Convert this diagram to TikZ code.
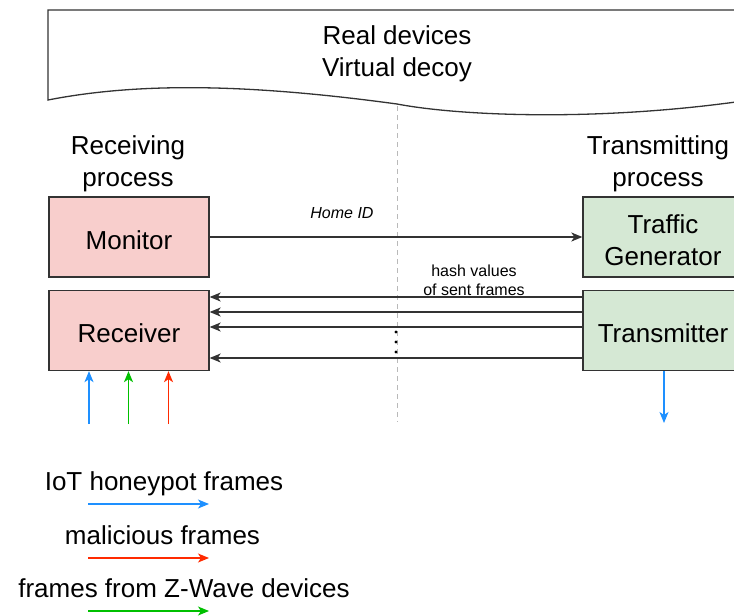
\documentclass[tikz,border=0pt]{standalone}
\usepackage{fontspec}
\setmainfont{Liberation Sans}
\usetikzlibrary{arrows.meta}

\definecolor{recfill}{HTML}{F8CECC}
\definecolor{txfill}{HTML}{D5E8D4}
\definecolor{edge}{HTML}{333333}
\definecolor{honeyblue}{HTML}{1E90FF}
\definecolor{malred}{HTML}{FF2A00}
\definecolor{zwgreen}{HTML}{00C000}

\tikzset{
  big/.style={font=\fontsize{26}{32}\selectfont, align=center, inner sep=0pt},
  small/.style={font=\fontsize{16}{19}\selectfont, align=center, inner sep=0pt},
  procbox/.style={draw=edge, line width=1.3pt, minimum width=160pt, minimum height=80pt,
    inner sep=0pt},
  boxtext/.style={label={[big, yshift=-3pt]center:#1}},
  tip/.style={-{Stealth[length=11pt,width=9pt,inset=3pt]}},
  flow/.style={tip, draw=edge, line width=1.3pt},
  feed/.style={tip, line width=1.3pt},
}

\begin{document}
\begin{tikzpicture}[x=1pt,y=-1pt]
\useasboundingbox (0,0) rectangle (734,616);

% document shape with wavy lower edge
\draw[edge, line width=1.3pt, fill=white]
  (48,100) -- (48,10) -- (750,10) -- (750,100)
  .. controls (600,122) and (460,116) .. (397,104)
  .. controls (250,84) and (140,82) .. (48,100) -- cycle;
\node[big] (title) at (397,54) {Real devices\\Virtual decoy};

% separator between the two sides
\draw[gray!55, line width=1pt, dash pattern=on 5pt off 4pt] (397,106) -- (397,422);

% side headings
\node[big] (rxhead) at (128,164) {Receiving\\process};
\node[big] (txhead) at (658,164) {Transmitting\\process};

% process boxes
\node[procbox, fill=recfill, boxtext={Monitor}] (mon) at (129,237) {};
\node[procbox, fill=recfill, boxtext={Receiver}] (rx) at (129,330.5) {};
\node[procbox, fill=txfill, boxtext={Traffic\\Generator}] (tg) at (663,237) {};
\node[procbox, fill=txfill, boxtext={Transmitter}] (tx) at (663,330.5) {};

% Home ID from monitor to generator
\draw[flow] (mon.east) -- (tg.west);
\node[small, font=\fontsize{16}{19}\selectfont\itshape] (homeid) at (342,213) {Home ID};

% hash values from transmitter back to receiver
\foreach \y in {297,312,327,358}
  \draw[flow] (tx.west |- 0,\y) -- (rx.east |- 0,\y);
\node[small] (hash) at (474,280) {hash values\\of sent frames};
\foreach \y in {332,342,352}
  \fill[black] (396,\y) circle (1.6pt);

% frames arriving at the receiver
\coordinate (inblue)  at (89,424);
\coordinate (ingreen) at (128.5,424);
\coordinate (inred)   at (168.5,424);
\draw[feed, honeyblue] (inblue)  -- (inblue  |- rx.south);
\draw[feed, zwgreen]   (ingreen) -- (ingreen |- rx.south);
\draw[feed, malred]    (inred)   -- (inred   |- rx.south);

% frames sent by the transmitter
\coordinate (outblue) at (664,423);
\draw[feed, honeyblue] (outblue |- tx.south) -- (outblue);

% legend
\node[big] (lghoney) at (164,484) {IoT honeypot frames};
\coordinate (lg1a) at (88,504);  \coordinate (lg1b) at (209,504);
\draw[feed, honeyblue] (lg1a) -- (lg1b);

\node[big] (lgmal) at (162.5,535) {malicious frames};
\coordinate (lg2a) at (88,558);  \coordinate (lg2b) at (209,558);
\draw[feed, malred] (lg2a) -- (lg2b);

\node[big] (lgzw) at (184,588) {frames from Z-Wave devices};
\coordinate (lg3a) at (88,611);  \coordinate (lg3b) at (209,611);
\draw[feed, zwgreen] (lg3a) -- (lg3b);
\end{tikzpicture}
\end{document}
